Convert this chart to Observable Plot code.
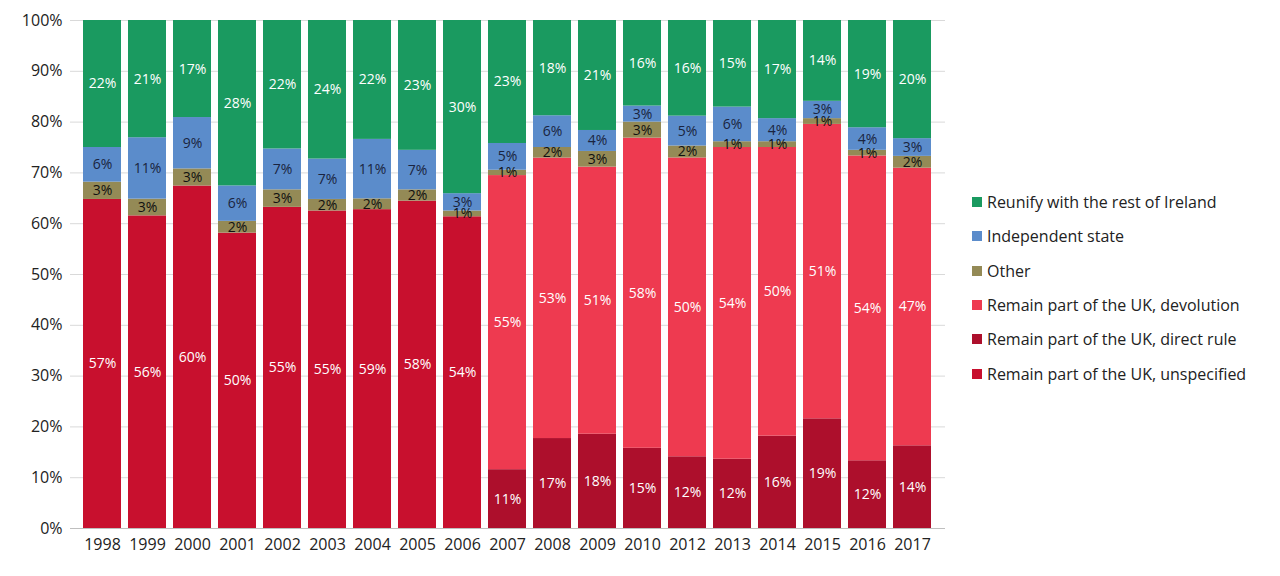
<!DOCTYPE html>
<html><head><meta charset="utf-8">
<script src="https://cdn.jsdelivr.net/npm/d3@7"></script>
<script src="https://cdn.jsdelivr.net/npm/@observablehq/plot@0.6"></script>
<style>
body{margin:0;background:#fff;font-family:"Open Sans",sans-serif;}
#wrap{position:relative;width:1280px;height:576px;}
#legend{position:absolute;left:972px;top:185px;font-size:16px;color:#222;}
#legend div{height:34.3px;display:flex;align-items:center;}
#legend span.sw{display:inline-block;width:10px;height:10px;margin-right:5px;}
</style></head><body><div id="wrap"><div id="chart"></div><div id="legend"></div></div>
<script>
const years = ["1998","1999","2000","2001","2002","2003","2004","2005","2006","2007","2008","2009","2010","2012","2013","2014","2015","2016","2017"];
const series = ["Remain part of the UK, unspecified","Remain part of the UK, direct rule","Remain part of the UK, devolution","Other","Independent state","Reunify with the rest of Ireland"];
const colors = ["#c8102e","#ad0f2c","#ee3a50","#948a56","#5b8ccb","#1a9a60"];
const textColors = ["#fff","#fff","#fff","#111","#1a2440","#fff"];
const unspecified = [57,56,60,50,55,55,59,58,54,0,0,0,0,0,0,0,0,0,0];
const directRule  = [0,0,0,0,0,0,0,0,0,11,17,18,15,12,12,16,19,12,14];
const devolution  = [0,0,0,0,0,0,0,0,0,55,53,51,58,50,54,50,51,54,47];
const other       = [3,3,3,2,3,2,2,2,1,1,2,3,3,2,1,1,1,1,2];
const independent = [6,11,9,6,7,7,11,7,3,5,6,4,3,5,6,4,3,4,3];
const reunify     = [22,21,17,28,22,24,22,23,30,23,18,21,16,16,15,17,14,19,20];
const yTicks = [0,0.1,0.2,0.3,0.4,0.5,0.6,0.7,0.8,0.9,1];

const arrs = [unspecified,directRule,devolution,other,independent,reunify];
const data = [];
years.forEach((y,i)=>arrs.forEach((a,k)=>{ if(a[i]>0) data.push({year:y,series:series[k],value:a[i],k}); }));

const stack = {x:"year",y:"value",z:"series",order:series,offset:"normalize"};
const plot = Plot.plot({
  width:950,height:576,marginLeft:70,marginRight:5,marginTop:20,marginBottom:48,
  style:{fontFamily:"Open Sans, sans-serif",fontSize:"16px",color:"#222"},
  x:{domain:years,padding:0.15,label:null,tickSize:0,tickPadding:10},
  y:{domain:[0,1],ticks:yTicks,tickFormat:d=>Math.round(d*100)+"%",label:null,tickSize:0,tickPadding:8},
  color:{domain:series,range:colors},
  marks:[
    Plot.gridY(yTicks,{stroke:"#d9d9d9",strokeOpacity:1}),
    Plot.barY(data,Plot.stackY({...stack,fill:"series"})),
    Plot.text(data,Plot.stackY({...stack,text:d=>d.value+"%",fill:d=>textColors[d.k],fontSize:14})),
    Plot.ruleY([0],{stroke:"#bfbfbf"})
  ]
});
document.getElementById("chart").appendChild(plot);
const lg=document.getElementById("legend");
for(let k=series.length-1;k>=0;k--){
  const d=document.createElement("div");
  d.innerHTML=`<span class="sw" style="background:${colors[k]}"></span>${series[k]}`;
  lg.appendChild(d);
}
</script></body></html>
